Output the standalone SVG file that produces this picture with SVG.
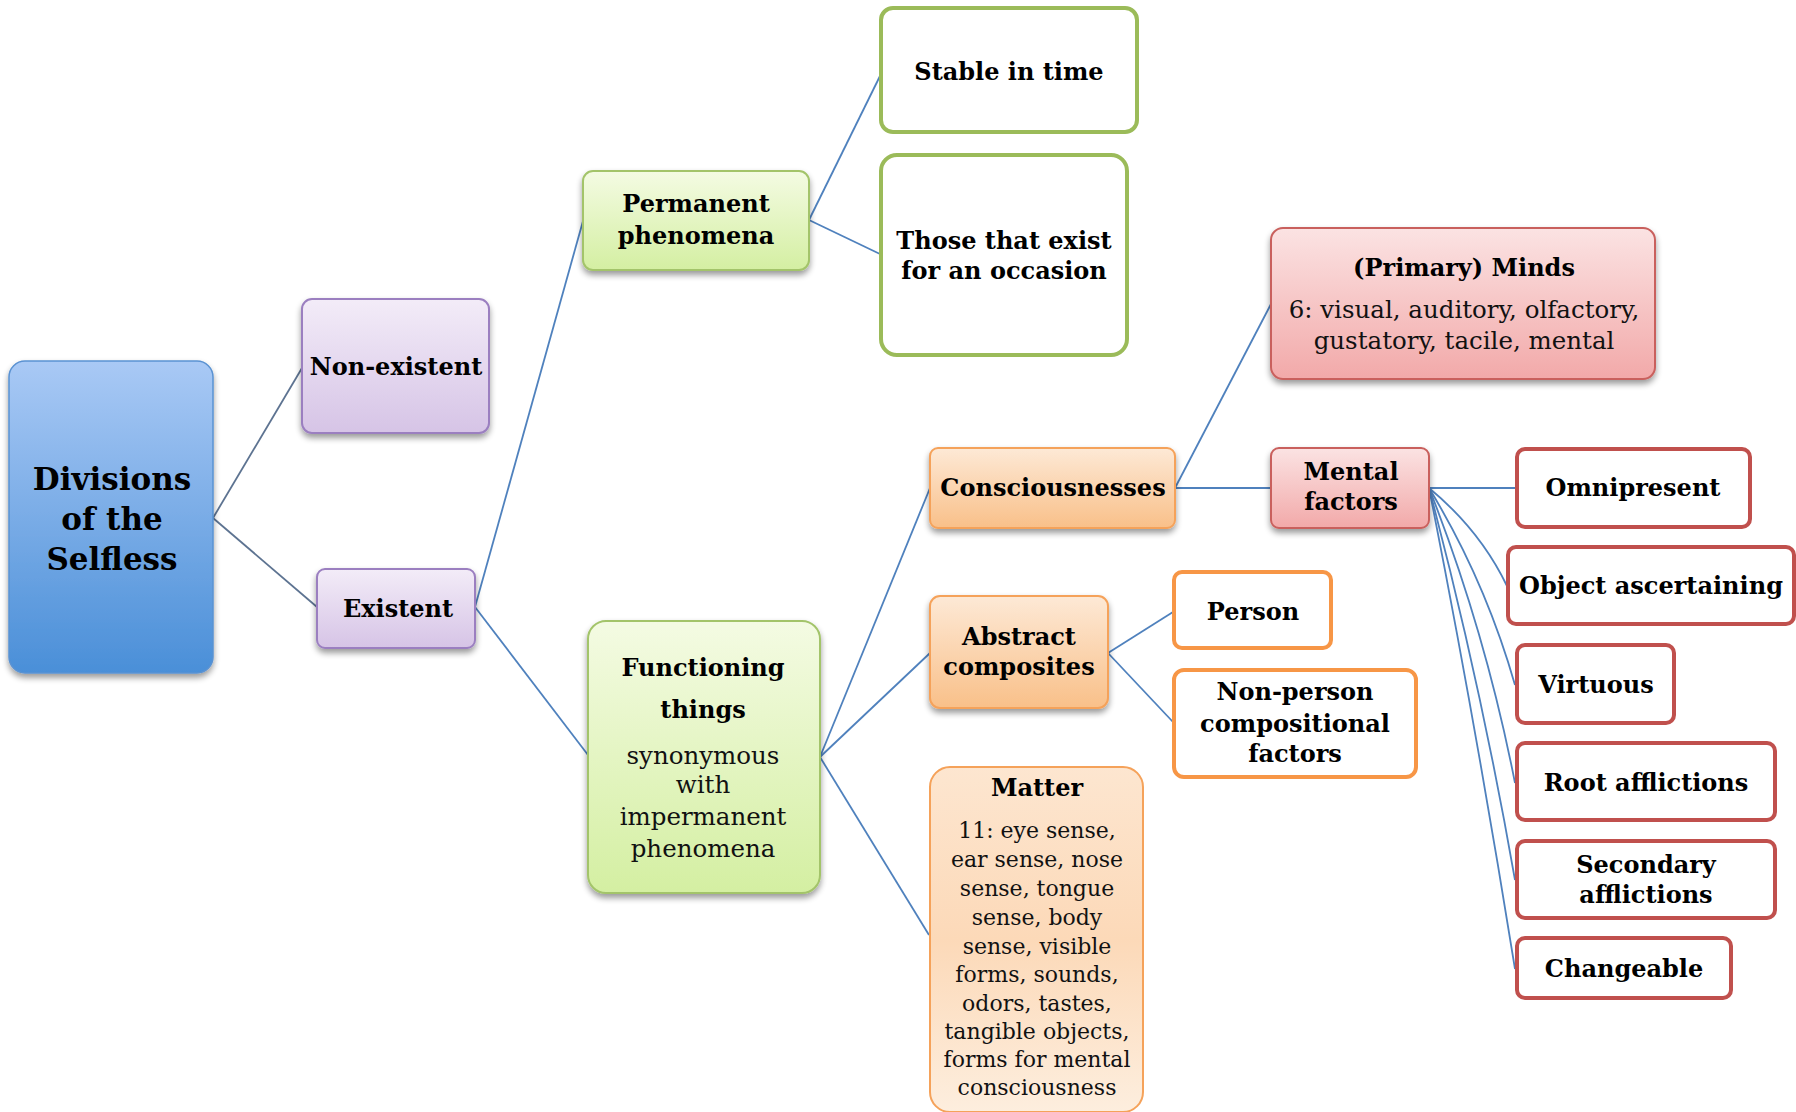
<svg xmlns="http://www.w3.org/2000/svg" width="1796" height="1112" viewBox="0 0 1796 1112">
  <defs>
    <linearGradient id="gBlue" x1="0" y1="0" x2="0" y2="1">
      <stop offset="0" stop-color="#a9c9f5"/>
      <stop offset="1" stop-color="#4a8fd8"/>
    </linearGradient>
    <linearGradient id="gPurple" x1="0" y1="0" x2="0" y2="1">
      <stop offset="0" stop-color="#f3ecf8"/>
      <stop offset="1" stop-color="#d6c4e6"/>
    </linearGradient>
    <linearGradient id="gGreen" x1="0" y1="0" x2="0" y2="1">
      <stop offset="0" stop-color="#f4fbe3"/>
      <stop offset="1" stop-color="#d4efa2"/>
    </linearGradient>
    <linearGradient id="gOrange" x1="0" y1="0" x2="0" y2="1">
      <stop offset="0" stop-color="#fde9d6"/>
      <stop offset="1" stop-color="#f9c089"/>
    </linearGradient>
    <linearGradient id="gOrangeLight" x1="0" y1="0" x2="0" y2="1">
      <stop offset="0" stop-color="#fde6d0"/>
      <stop offset="0.5" stop-color="#fcd9b8"/>
      <stop offset="1" stop-color="#fdeede"/>
    </linearGradient>
    <linearGradient id="gRed" x1="0" y1="0" x2="0" y2="1">
      <stop offset="0" stop-color="#fbe3e3"/>
      <stop offset="1" stop-color="#f2a9a9"/>
    </linearGradient>
    <filter id="shadow" x="-10%" y="-10%" width="120%" height="130%">
      <feGaussianBlur in="SourceAlpha" stdDeviation="3"/>
      <feOffset dx="0" dy="4" result="b"/>
      <feComponentTransfer><feFuncA type="linear" slope="0.4"/></feComponentTransfer>
      <feMerge><feMergeNode/><feMergeNode in="SourceGraphic"/></feMerge>
    </filter>
    <style>
      .lbl { font-family: "DejaVu Serif", "Liberation Serif", serif; font-weight: bold; font-size: 24px; fill: #000; text-anchor: middle; }
      .txt { font-family: "DejaVu Serif", "Liberation Serif", serif; font-size: 22px; fill: #111; text-anchor: middle; }
      .root { font-size: 31px; }
      .blue { fill: url(#gBlue); stroke: #5a92d2; stroke-width: 1.5; filter: url(#shadow); }
      .purple { fill: url(#gPurple); stroke: #9b7fc0; stroke-width: 2; filter: url(#shadow); }
      .green { fill: url(#gGreen); stroke: #a3c46a; stroke-width: 2; filter: url(#shadow); }
      .greenOut { fill: #fff; stroke: #9bbb59; stroke-width: 4; }
      .orange { fill: url(#gOrange); stroke: #f5a25a; stroke-width: 2; filter: url(#shadow); }
      .orangeLt { fill: url(#gOrangeLight); stroke: #f5a25a; stroke-width: 2; }
      .orangeOut { fill: #fff; stroke: #f79646; stroke-width: 4; }
      .red { fill: url(#gRed); stroke: #c9605d; stroke-width: 2; filter: url(#shadow); }
      .redOut { fill: #fff; stroke: #c0504d; stroke-width: 4; }
      .conn { fill: none; stroke: #4f81bd; stroke-width: 1.8; }
      .connDark { fill: none; stroke: #5d7391; stroke-width: 1.8; }
    </style>
  </defs>

  <rect width="1796" height="1112" fill="#fff"/>

  <!-- connectors -->
  <g id="connectors">
    <line class="connDark" x1="213" y1="518" x2="302" y2="368"/>
    <line class="connDark" x1="213" y1="518" x2="317" y2="607"/>
    <line class="conn" x1="475" y1="607" x2="583" y2="221"/>
    <line class="conn" x1="475" y1="607" x2="588" y2="755"/>
    <line class="conn" x1="809" y1="220" x2="880" y2="76"/>
    <line class="conn" x1="809" y1="220" x2="880" y2="254"/>
    <line class="conn" x1="820" y1="757" x2="930" y2="488"/>
    <line class="conn" x1="820" y1="757" x2="930" y2="653"/>
    <line class="conn" x1="820" y1="757" x2="929" y2="935"/>
    <line class="conn" x1="1175" y1="488" x2="1271" y2="304"/>
    <line class="conn" x1="1175" y1="488" x2="1271" y2="488"/>
    <line class="conn" x1="1108" y1="653" x2="1173" y2="612"/>
    <line class="conn" x1="1108" y1="653" x2="1173" y2="722"/>
    <line class="conn" x1="1429" y1="488" x2="1515" y2="488"/>
    <path class="conn" d="M1429,488 Q1480,530 1507,586"/>
    <path class="conn" d="M1429,488 Q1485,580 1515,685"/>
    <path class="conn" d="M1429,488 Q1485,630 1515,783"/>
    <path class="conn" d="M1429,488 Q1480,680 1515,880"/>
    <path class="conn" d="M1429,488 Q1475,720 1515,969"/>
  </g>

  <!-- root -->
  <g id="root">
    <rect class="blue" x="9" y="361" width="204" height="312" rx="16"/>
    <text class="lbl root" x="112" y="490">Divisions</text>
    <text class="lbl root" x="112" y="530">of the</text>
    <text class="lbl root" x="112" y="570">Selfless</text>
  </g>

  <g id="non-existent">
    <rect class="purple" x="302" y="299" width="187" height="134" rx="10"/>
    <text class="lbl" x="396" y="375">Non-existent</text>
  </g>

  <g id="existent">
    <rect class="purple" x="317" y="569" width="158" height="79" rx="8"/>
    <text class="lbl" x="398" y="617">Existent</text>
  </g>

  <g id="permanent">
    <rect class="green" x="583" y="171" width="226" height="99" rx="10"/>
    <text class="lbl" x="696" y="212">Permanent</text>
    <text class="lbl" x="696" y="244">phenomena</text>
  </g>

  <g id="stable">
    <rect class="greenOut" x="881" y="8" width="256" height="124" rx="12"/>
    <text class="lbl" x="1009" y="80">Stable in time</text>
  </g>

  <g id="occasion">
    <rect class="greenOut" x="881" y="155" width="246" height="200" rx="16"/>
    <text class="lbl" x="1004" y="249">Those that exist</text>
    <text class="lbl" x="1004" y="279">for an occasion</text>
  </g>

  <g id="functioning">
    <rect class="green" x="588" y="621" width="232" height="272" rx="18"/>
    <text class="lbl" x="703" y="676">Functioning</text>
    <text class="lbl" x="703" y="718">things</text>
    <text class="txt" x="703" y="764" style="font-size:24.5px">synonymous</text>
    <text class="txt" x="703" y="793" style="font-size:24.5px">with</text>
    <text class="txt" x="703" y="825" style="font-size:24.5px">impermanent</text>
    <text class="txt" x="703" y="857" style="font-size:24.5px">phenomena</text>
  </g>

  <g id="consciousnesses">
    <rect class="orange" x="930" y="448" width="245" height="80" rx="8"/>
    <text class="lbl" x="1053" y="496">Consciousnesses</text>
  </g>

  <g id="abstract">
    <rect class="orange" x="930" y="596" width="178" height="112" rx="10"/>
    <text class="lbl" x="1019" y="645">Abstract</text>
    <text class="lbl" x="1019" y="675">composites</text>
  </g>

  <g id="matter">
    <rect class="orangeLt" x="930" y="767" width="213" height="345" rx="20"/>
    <text class="lbl" x="1037" y="796">Matter</text>
    <text class="txt" x="1037" y="838">11: eye sense,</text>
    <text class="txt" x="1037" y="867">ear sense, nose</text>
    <text class="txt" x="1037" y="896">sense, tongue</text>
    <text class="txt" x="1037" y="925">sense, body</text>
    <text class="txt" x="1037" y="954">sense, visible</text>
    <text class="txt" x="1037" y="982">forms, sounds,</text>
    <text class="txt" x="1037" y="1011">odors, tastes,</text>
    <text class="txt" x="1037" y="1039">tangible objects,</text>
    <text class="txt" x="1037" y="1067">forms for mental</text>
    <text class="txt" x="1037" y="1095">consciousness</text>
  </g>

  <g id="person">
    <rect class="orangeOut" x="1174" y="572" width="157" height="76" rx="8"/>
    <text class="lbl" x="1253" y="620">Person</text>
  </g>

  <g id="non-person">
    <rect class="orangeOut" x="1174" y="670" width="242" height="107" rx="10"/>
    <text class="lbl" x="1295" y="700">Non-person</text>
    <text class="lbl" x="1295" y="732">compositional</text>
    <text class="lbl" x="1295" y="762">factors</text>
  </g>

  <g id="minds">
    <rect class="red" x="1271" y="228" width="384" height="151" rx="12"/>
    <text class="lbl" x="1464" y="276">(Primary) Minds</text>
    <text class="txt" x="1464" y="318" style="font-size:24.5px">6: visual, auditory, olfactory,</text>
    <text class="txt" x="1464" y="349" style="font-size:24.5px">gustatory, tacile, mental</text>
  </g>

  <g id="mental-factors">
    <rect class="red" x="1271" y="448" width="158" height="80" rx="8"/>
    <text class="lbl" x="1351" y="480">Mental</text>
    <text class="lbl" x="1351" y="510">factors</text>
  </g>

  <g id="omnipresent">
    <rect class="redOut" x="1517" y="449" width="233" height="78" rx="8"/>
    <text class="lbl" x="1633" y="496">Omnipresent</text>
  </g>

  <g id="object-ascertaining">
    <rect class="redOut" x="1508" y="547" width="286" height="77" rx="8"/>
    <text class="lbl" x="1651" y="594">Object ascertaining</text>
  </g>

  <g id="virtuous">
    <rect class="redOut" x="1517" y="645" width="157" height="78" rx="8"/>
    <text class="lbl" x="1596" y="693">Virtuous</text>
  </g>

  <g id="root-afflictions">
    <rect class="redOut" x="1517" y="743" width="258" height="77" rx="8"/>
    <text class="lbl" x="1646" y="791">Root afflictions</text>
  </g>

  <g id="secondary-afflictions">
    <rect class="redOut" x="1517" y="841" width="258" height="77" rx="8"/>
    <text class="lbl" x="1646" y="873">Secondary</text>
    <text class="lbl" x="1646" y="903">afflictions</text>
  </g>

  <g id="changeable">
    <rect class="redOut" x="1517" y="938" width="214" height="60" rx="8"/>
    <text class="lbl" x="1624" y="977">Changeable</text>
  </g>
</svg>
